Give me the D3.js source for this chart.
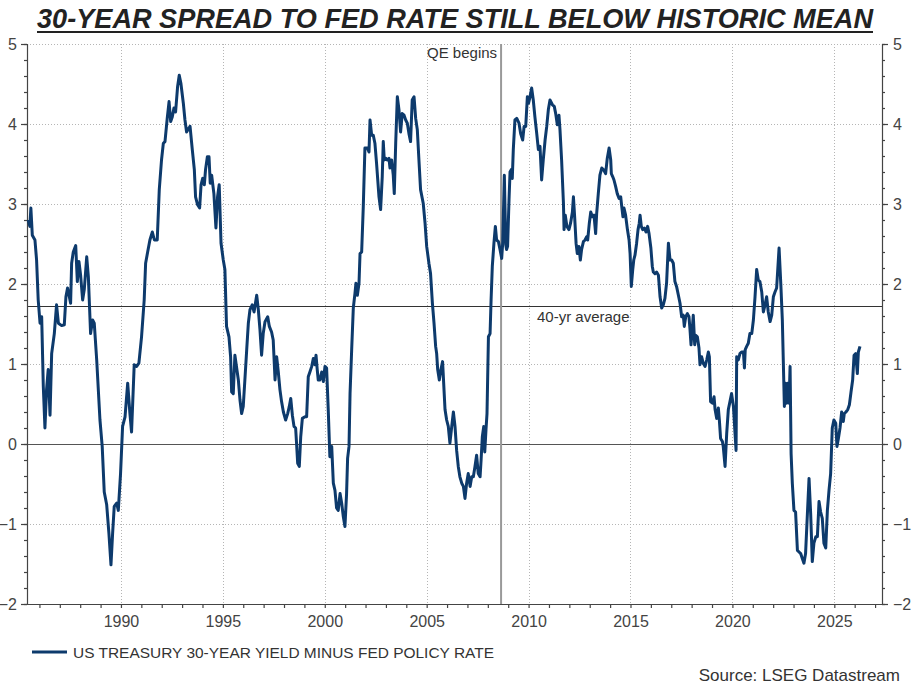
<!DOCTYPE html>
<html>
<head>
<meta charset="utf-8">
<script src="https://cdn.jsdelivr.net/npm/d3@7"></script>
<style>
  body { margin: 0; background: #fff; }
  svg { display: block; font-family: "Liberation Sans", Arial, sans-serif; }
</style>
</head>
<body>
<div id="chart"></div>
<script>
// decimal years and spread values (percentage points)
var years = [
  1985.45, 1985.53, 1985.58, 1985.65, 1985.78, 1985.86, 1985.94, 1986.03, 1986.11, 1986.19,
  1986.27, 1986.35, 1986.43, 1986.52, 1986.60, 1986.73, 1986.84, 1986.93, 1987.09, 1987.22,
  1987.30, 1987.38, 1987.53, 1987.58, 1987.66, 1987.78, 1987.86, 1987.94, 1988.02, 1988.12,
  1988.20, 1988.32, 1988.40, 1988.51, 1988.61, 1988.69, 1988.81, 1988.97, 1989.08, 1989.18,
  1989.30, 1989.41, 1989.51, 1989.59, 1989.67, 1989.79, 1989.87, 1989.98, 1990.08, 1990.20,
  1990.33, 1990.44, 1990.52, 1990.65, 1990.77, 1990.88, 1991.01, 1991.14, 1991.21, 1991.31,
  1991.42, 1991.54, 1991.64, 1991.78, 1991.88, 1991.99, 1992.08, 1992.16, 1992.27, 1992.36,
  1992.44, 1992.52, 1992.60, 1992.68, 1992.78, 1992.86, 1992.94, 1993.06, 1993.14, 1993.22,
  1993.39, 1993.50, 1993.60, 1993.66, 1993.76, 1993.86, 1993.93, 1994.01, 1994.09, 1994.15,
  1994.24, 1994.32, 1994.38, 1994.45, 1994.56, 1994.66, 1994.74, 1994.82, 1994.91, 1995.02,
  1995.10, 1995.18, 1995.30, 1995.38, 1995.43, 1995.51, 1995.59, 1995.76, 1995.84, 1995.92,
  1996.00, 1996.08, 1996.17, 1996.25, 1996.33, 1996.44, 1996.53, 1996.66, 1996.74, 1996.82,
  1996.90, 1996.98, 1997.07, 1997.20, 1997.28, 1997.39, 1997.47, 1997.56, 1997.64, 1997.72,
  1997.80, 1997.88, 1997.97, 1998.08, 1998.18, 1998.26, 1998.33, 1998.41, 1998.49, 1998.57,
  1998.62, 1998.67, 1998.75, 1998.82, 1998.90, 1999.03, 1999.11, 1999.19, 1999.27, 1999.36,
  1999.44, 1999.52, 1999.57, 1999.63, 1999.68, 1999.76, 1999.85, 1999.93, 2000.01, 2000.09,
  2000.17, 2000.25, 2000.34, 2000.42, 2000.50, 2000.58, 2000.66, 2000.75, 2000.83, 2000.91,
  2000.99, 2001.07, 2001.12, 2001.19, 2001.24, 2001.32, 2001.40, 2001.48, 2001.53, 2001.60,
  2001.68, 2001.73, 2001.81, 2001.89, 2001.97, 2002.09, 2002.17, 2002.22, 2002.30, 2002.38,
  2002.46, 2002.54, 2002.66, 2002.74, 2002.82, 2002.87, 2002.92, 2003.00, 2003.07, 2003.15,
  2003.20, 2003.28, 2003.36, 2003.41, 2003.48, 2003.56, 2003.64, 2003.72, 2003.80, 2003.89,
  2003.97, 2004.05, 2004.13, 2004.21, 2004.29, 2004.38, 2004.46, 2004.54, 2004.62, 2004.70,
  2004.83, 2004.92, 2005.00, 2005.11, 2005.19, 2005.28, 2005.36, 2005.44, 2005.49, 2005.54,
  2005.62, 2005.70, 2005.78, 2005.90, 2005.98, 2006.06, 2006.14, 2006.23, 2006.31, 2006.39,
  2006.47, 2006.55, 2006.63, 2006.72, 2006.80, 2006.88, 2006.96, 2007.04, 2007.13, 2007.21,
  2007.29, 2007.37, 2007.45, 2007.53, 2007.62, 2007.67, 2007.73, 2007.80, 2007.85, 2007.91,
  2007.96, 2008.03, 2008.11, 2008.16, 2008.22, 2008.30, 2008.37, 2008.43, 2008.52, 2008.60,
  2008.68, 2008.73, 2008.81, 2008.88, 2008.92, 2008.97, 2009.04, 2009.09, 2009.15, 2009.20,
  2009.25, 2009.33, 2009.42, 2009.53, 2009.61, 2009.71, 2009.78, 2009.86, 2009.94, 2010.00,
  2010.07, 2010.15, 2010.23, 2010.31, 2010.40, 2010.48, 2010.56, 2010.64, 2010.72, 2010.81,
  2010.89, 2010.97, 2011.05, 2011.17, 2011.26, 2011.33, 2011.41, 2011.49, 2011.54, 2011.62,
  2011.71, 2011.74, 2011.80, 2011.88, 2011.98, 2012.06, 2012.15, 2012.20, 2012.26, 2012.33,
  2012.39, 2012.47, 2012.54, 2012.60, 2012.69, 2012.77, 2012.85, 2012.90, 2012.98, 2013.05,
  2013.13, 2013.21, 2013.29, 2013.34, 2013.42, 2013.50, 2013.59, 2013.67, 2013.78, 2013.86,
  2013.95, 2014.03, 2014.06, 2014.13, 2014.19, 2014.27, 2014.35, 2014.44, 2014.52, 2014.57,
  2014.63, 2014.68, 2014.76, 2014.85, 2014.93, 2014.98, 2015.04, 2015.11, 2015.16, 2015.22,
  2015.30, 2015.37, 2015.43, 2015.47, 2015.53, 2015.60, 2015.68, 2015.76, 2015.84, 2015.91,
  2016.00, 2016.07, 2016.12, 2016.20, 2016.28, 2016.37, 2016.45, 2016.53, 2016.61, 2016.69,
  2016.77, 2016.86, 2016.94, 2017.02, 2017.10, 2017.18, 2017.26, 2017.35, 2017.43, 2017.51,
  2017.59, 2017.64, 2017.71, 2017.79, 2017.87, 2017.92, 2017.97, 2018.03, 2018.08, 2018.15,
  2018.20, 2018.28, 2018.36, 2018.41, 2018.49, 2018.57, 2018.66, 2018.74, 2018.82, 2018.87,
  2018.93, 2019.02, 2019.10, 2019.15, 2019.23, 2019.31, 2019.36, 2019.42, 2019.51, 2019.55,
  2019.64, 2019.72, 2019.80, 2019.88, 2019.96, 2020.05, 2020.13, 2020.18, 2020.21, 2020.29,
  2020.37, 2020.45, 2020.54, 2020.59, 2020.63, 2020.70, 2020.78, 2020.86, 2020.95, 2021.03,
  2021.11, 2021.19, 2021.27, 2021.35, 2021.44, 2021.52, 2021.60, 2021.68, 2021.76, 2021.85,
  2021.93, 2022.01, 2022.09, 2022.17, 2022.29, 2022.38, 2022.45, 2022.50, 2022.55, 2022.60,
  2022.66, 2022.71, 2022.78, 2022.83, 2022.88, 2022.94, 2023.02, 2023.10, 2023.19, 2023.27,
  2023.35, 2023.43, 2023.51, 2023.59, 2023.68, 2023.76, 2023.84, 2023.92, 2024.00, 2024.09,
  2024.17, 2024.25, 2024.33, 2024.41, 2024.49, 2024.58, 2024.66, 2024.74, 2024.82, 2024.90,
  2024.98, 2025.07, 2025.13, 2025.20, 2025.28, 2025.36, 2025.44, 2025.49, 2025.57, 2025.66,
  2025.74, 2025.82, 2025.90, 2025.97, 2026.05, 2026.13, 2026.18, 2026.26
];

var spread = [
  2.80, 2.72, 2.95, 2.61, 2.55, 2.30, 1.80, 1.51, 1.59, 0.72,
  0.20, 0.68, 0.93, 0.36, 1.13, 1.38, 1.74, 1.51, 1.48, 1.49,
  1.84, 1.95, 1.76, 2.26, 2.40, 2.48, 2.03, 2.28, 2.11, 1.80,
  1.93, 2.34, 2.09, 1.38, 1.55, 1.51, 1.05, 0.30, -0.03, -0.60,
  -0.76, -1.12, -1.51, -1.12, -0.78, -0.74, -0.83, -0.37, 0.22, 0.34,
  0.76, 0.38, 0.15, 0.99, 0.97, 1.01, 1.34, 1.80, 2.26, 2.40,
  2.55, 2.65, 2.55, 2.55, 3.18, 3.55, 3.76, 3.78, 4.07, 4.28,
  4.03, 4.09, 4.20, 4.15, 4.47, 4.61, 4.51, 4.26, 4.05, 3.90,
  3.97, 3.68, 3.43, 3.09, 2.99, 2.95, 3.24, 3.32, 3.24, 3.43,
  3.59, 3.59, 3.26, 3.36, 3.13, 2.70, 3.09, 3.24, 2.51, 2.30,
  2.18, 1.47, 1.34, 1.09, 0.65, 0.63, 1.11, 0.80, 0.55, 0.38,
  0.47, 0.80, 1.18, 1.51, 1.68, 1.74, 1.65, 1.86, 1.68, 1.43,
  1.11, 1.38, 1.53, 1.59, 1.47, 1.40, 1.30, 0.80, 1.09, 0.90,
  0.68, 0.53, 0.40, 0.30, 0.38, 0.47, 0.57, 0.36, 0.22, 0.20,
  -0.01, -0.24, -0.28, 0.09, 0.32, 0.34, 0.34, 0.84, 0.90, 0.97,
  1.07, 0.99, 1.11, 0.93, 0.80, 0.80, 0.90, 0.78, 0.97, 0.95,
  0.43, -0.16, -0.03, -0.49, -0.58, -0.80, -0.83, -0.62, -0.74, -0.91,
  -1.03, -0.62, -0.18, -0.03, 0.63, 1.18, 1.70, 1.88, 2.01, 1.86,
  2.01, 2.38, 2.40, 2.97, 3.70, 3.70, 3.65, 4.05, 3.86, 3.86,
  3.76, 3.51, 3.09, 2.93, 3.34, 3.78, 3.55, 3.57, 3.55, 3.57,
  3.45, 3.55, 3.36, 3.13, 3.76, 4.34, 4.18, 3.90, 4.13, 4.11,
  4.05, 4.01, 3.88, 3.78, 4.30, 4.34, 4.07, 3.93, 3.55, 3.18,
  3.01, 2.76, 2.47, 2.26, 2.13, 1.76, 1.51, 1.22, 1.13, 0.93,
  0.80, 0.93, 1.03, 0.43, 0.30, 0.22, 0.01, 0.22, 0.40, 0.22,
  -0.08, -0.28, -0.41, -0.49, -0.53, -0.68, -0.49, -0.37, -0.53, -0.41,
  -0.41, -0.28, -0.14, -0.37, -0.41, -0.20, 0.09, 0.22, -0.10, 0.18,
  0.38, 1.34, 1.38, 1.80, 2.22, 2.51, 2.72, 2.55, 2.53, 2.43,
  2.32, 2.51, 3.36, 2.49, 2.43, 2.47, 3.05, 3.40, 3.43, 3.32,
  3.68, 4.05, 4.07, 4.01, 3.88, 3.80, 3.97, 3.97, 4.34, 4.26,
  4.34, 4.45, 4.30, 4.09, 3.88, 3.68, 3.72, 3.30, 3.55, 3.80,
  3.97, 4.18, 4.30, 4.24, 4.22, 4.13, 3.99, 4.11, 3.93, 3.55,
  3.01, 2.68, 2.86, 2.72, 2.68, 2.76, 2.90, 3.09, 2.84, 2.51,
  2.38, 2.47, 2.30, 2.43, 2.53, 2.55, 2.59, 2.55, 2.76, 2.90,
  2.84, 2.86, 2.63, 2.88, 3.13, 3.36, 3.45, 3.43, 3.38, 3.57,
  3.70, 3.55, 3.38, 3.34, 3.30, 3.22, 3.13, 3.07, 3.09, 2.97,
  2.84, 2.95, 2.86, 2.68, 2.55, 2.38, 1.97, 2.18, 2.30, 2.36,
  2.51, 2.68, 2.76, 2.86, 2.72, 2.68, 2.70, 2.65, 2.72, 2.63,
  2.45, 2.22, 2.15, 2.13, 2.15, 2.11, 1.84, 1.70, 1.74, 1.82,
  2.01, 2.51, 2.30, 2.30, 2.26, 2.03, 1.97, 1.86, 1.76, 1.59,
  1.61, 1.47, 1.59, 1.63, 1.59, 1.43, 1.24, 1.43, 1.61, 1.24,
  1.36, 1.34, 1.20, 0.99, 1.09, 1.01, 0.97, 1.05, 1.15, 1.09,
  0.53, 0.51, 0.59, 0.43, 0.32, 0.45, 0.30, 0.07, 0.03, -0.03,
  -0.28, 0.13, 0.43, 0.53, 0.63, 0.47, 0.13, -0.08, 1.09, 1.05,
  1.13, 1.15, 1.15, 0.95, 1.18, 1.22, 1.26, 1.38, 1.38, 1.55,
  1.84, 2.18, 2.05, 2.03, 1.90, 1.65, 1.74, 1.84, 1.65, 1.53,
  1.61, 1.84, 1.90, 1.95, 2.45, 1.97, 1.55, 1.01, 0.47, 0.76,
  0.51, 0.76, 0.51, 0.97, -0.12, -0.49, -0.83, -0.85, -1.33, -1.35,
  -1.37, -1.43, -1.49, -1.37, -0.87, -0.43, -0.87, -1.47, -1.24, -1.16,
  -1.16, -0.72, -0.85, -0.93, -1.24, -1.30, -0.83, -0.58, -0.37, 0.20,
  0.30, 0.26, -0.03, 0.07, 0.20, 0.40, 0.28, 0.38, 0.40, 0.43,
  0.49, 0.65, 0.80, 1.11, 1.13, 0.88, 1.15, 1.22
];

var yTickValues = [-2, -1, 0, 1, 2, 3, 4, 5];
var xTickYears = [1990, 1995, 2000, 2005, 2010, 2015, 2020, 2025];
var averageValue = 1.72;
var qeYear = 2008.65;

var width = 912, height = 686;
var plotLeft = 27, plotRight = 882, plotTop = 44, plotBottom = 604;

var svg = d3.select("#chart").append("svg")
    .attr("width", width)
    .attr("height", height);

var x = d3.scaleLinear().domain([1985.39, 2027.34]).range([plotLeft, plotRight]);
var y = d3.scaleLinear().domain([-2, 5]).range([plotBottom, plotTop]);

// title
svg.append("text")
    .attr("x", 455).attr("y", 28)
    .attr("text-anchor", "middle")
    .attr("textLength", 836)
    .attr("lengthAdjust", "spacingAndGlyphs")
    .style("font-family", "'Liberation Sans Narrow', 'Liberation Sans', Arial, sans-serif")
    .style("font-size", "28px")
    .style("font-weight", "bold")
    .style("font-style", "italic")
    .style("fill", "#222")
    .text("30-YEAR SPREAD TO FED RATE STILL BELOW HISTORIC MEAN");
svg.append("line")
    .attr("x1", 37).attr("x2", 873)
    .attr("y1", 32).attr("y2", 32)
    .style("stroke", "#222").style("stroke-width", 2);

// gridlines, dotted
svg.append("g").selectAll("line")
    .data(yTickValues.filter(function(d) { return d != 0 && d != -2; }))
    .enter().append("line")
    .attr("x1", plotLeft).attr("x2", plotRight)
    .attr("y1", function(d) { return Math.round(y(d)) + 0.5; })
    .attr("y2", function(d) { return Math.round(y(d)) + 0.5; })
    .style("stroke", "#b5b5b5").style("stroke-dasharray", "1,2");

svg.append("g").selectAll("line")
    .data(xTickYears)
    .enter().append("line")
    .attr("x1", function(d) { return Math.round(x(d)) + 0.5; })
    .attr("x2", function(d) { return Math.round(x(d)) + 0.5; })
    .attr("y1", plotTop).attr("y2", plotBottom)
    .style("stroke", "#b5b5b5").style("stroke-dasharray", "1,2");

// zero line and average line
svg.append("line")
    .attr("x1", plotLeft).attr("x2", plotRight)
    .attr("y1", Math.round(y(0)) + 0.5).attr("y2", Math.round(y(0)) + 0.5)
    .style("stroke", "#555").style("stroke-width", 1.2);
svg.append("line")
    .attr("x1", plotLeft).attr("x2", plotRight)
    .attr("y1", Math.round(y(averageValue)) + 0.5).attr("y2", Math.round(y(averageValue)) + 0.5)
    .style("stroke", "#333").style("stroke-width", 1);

// QE line
svg.append("line")
    .attr("x1", x(qeYear)).attr("x2", x(qeYear))
    .attr("y1", plotTop).attr("y2", plotBottom)
    .style("stroke", "#999").style("stroke-width", 2);

svg.append("text")
    .attr("x", x(qeYear) - 4).attr("y", 58)
    .attr("text-anchor", "end")
    .style("font-size", "15px").style("fill", "#333")
    .text("QE begins");
svg.append("text")
    .attr("x", 537).attr("y", 322)
    .style("font-size", "15px").style("fill", "#333")
    .text("40-yr average");

// axes
var yMinor = d3.range(-2, 5.001, 0.2);
var leftAxis = d3.axisLeft(y).tickValues(yTickValues).tickSize(6).tickPadding(4).tickFormat(d3.format("d"));
var rightAxis = d3.axisRight(y).tickValues(yTickValues).tickSize(6).tickPadding(5).tickFormat(d3.format("d"));

svg.append("g").attr("class", "yminor").attr("transform", "translate(" + plotLeft + ",0)")
    .call(d3.axisLeft(y).tickValues(yMinor).tickSize(3).tickFormat(""))
    .call(function(g) { g.select(".domain").remove(); });
svg.append("g").attr("class", "yminor").attr("transform", "translate(" + plotRight + ",0)")
    .call(d3.axisRight(y).tickValues(yMinor).tickSize(3).tickFormat(""))
    .call(function(g) { g.select(".domain").remove(); });

svg.append("g").attr("class", "yaxis").attr("transform", "translate(" + plotLeft + ",0)").call(leftAxis);
svg.append("g").attr("class", "yaxis").attr("transform", "translate(" + plotRight + ",0)").call(rightAxis);

var xAxis = d3.axisBottom(x)
    .tickValues(d3.range(1986, 2028))
    .tickSize(4)
    .tickFormat(function(d) { return d % 5 == 0 ? d : ""; })
    .tickPadding(8);
svg.append("g").attr("class", "xaxis").attr("transform", "translate(0," + plotBottom + ")").call(xAxis)
    .call(function(g) { g.select(".domain").attr("d", "M" + plotLeft + ",0.5H" + plotRight); });

svg.selectAll(".yaxis path, .yaxis line, .xaxis path, .xaxis line, .yminor line")
    .style("stroke", "#444").style("stroke-width", 1.2);
svg.selectAll(".yaxis text, .xaxis text")
    .style("font-family", "'Liberation Sans', Arial, sans-serif")
    .style("font-size", "16px").style("fill", "#444");

// data line
var points = years.map(function(d, i) { return [d, spread[i]]; });
var line = d3.line()
    .x(function(d) { return x(d[0]); })
    .y(function(d) { return y(d[1]); });

svg.append("path")
    .datum(points)
    .attr("d", line)
    .style("fill", "none")
    .style("stroke", "#0d3a6c")
    .style("stroke-width", 3)
    .style("stroke-linejoin", "round");

// legend
svg.append("line")
    .attr("x1", 32).attr("x2", 67)
    .attr("y1", 652).attr("y2", 652)
    .style("stroke", "#0d3a6c").style("stroke-width", 3);
svg.append("text")
    .attr("x", 73).attr("y", 657.5)
    .attr("textLength", 421)
    .attr("lengthAdjust", "spacingAndGlyphs")
    .style("font-size", "15px").style("fill", "#333")
    .text("US TREASURY 30-YEAR YIELD MINUS FED POLICY RATE");

svg.append("text")
    .attr("x", 900).attr("y", 681)
    .attr("text-anchor", "end")
    .style("font-size", "17px").style("fill", "#333")
    .text("Source: LSEG Datastream");
</script>
</body>
</html>
